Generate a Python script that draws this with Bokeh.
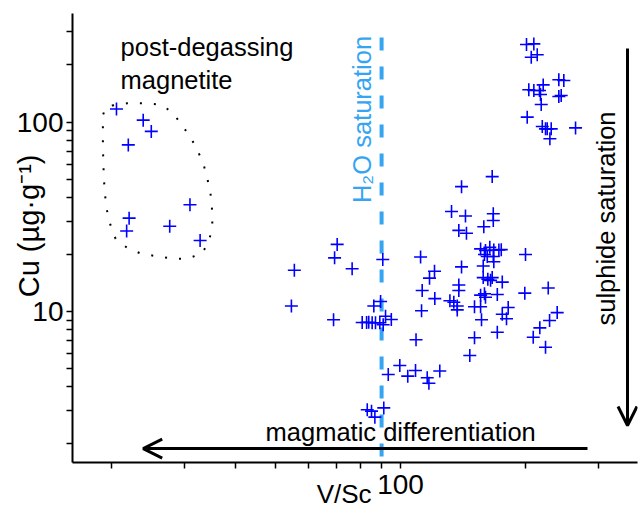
from bokeh.plotting import figure
from bokeh.models import (FixedTicker, PrintfTickFormatter, Label, Arrow, OpenHead)
from bokeh.embed import file_html
from bokeh.resources import INLINE

# ---------------- data ----------------
# post-degassing magnetite
mag_vsc = [20.6, 23.9, 25.0, 22.0, 31.0, 22.1, 21.8, 27.7, 32.8]
mag_cu = [117.2, 102.3, 89.2, 75.7, 36.6, 31.1, 26.6, 28.2, 23.7]

# other magnetite analyses
vsc = [55.4, 54.5, 70.3, 69.3, 76.4, 68.9, 90.6, 89.5, 86.2,
       80.8, 82.8, 83.8, 85.4, 87.0, 89.1, 90.8, 92.0, 95.0,
       93.4, 83.1, 85.1, 86.7, 91.1,
       99.6, 104.1, 108.7, 116.0, 117.1, 124.4, 109.0,
       111.8, 120.8, 117.5, 112.8, 121.0, 112.4,
       131.6, 134.5, 137.1, 137.1, 138.3, 138.3, 140.4, 132.8, 138.3, 140.4,
       143.5, 144.3,
       166.5, 167.5, 167.5, 158.9,
       156.1, 160.4, 164.3, 168.0, 172.8, 175.1, 162.0, 167.5, 159.5,
       168.0, 158.4, 158.4, 162.5, 166.5, 165.0, 176.1,
       156.1, 159.5, 160.4, 171.3,
       150.9, 156.1, 182.0, 176.1, 180.3, 156.9, 171.3, 150.9, 147.0,
       200.4, 199.6, 227.4, 239.0, 229.1, 217.0, 209.2, 224.0,
       201.5, 209.9, 206.9, 213.9, 241.2, 248.0, 241.2, 244.4,
       204.1, 209.9, 216.6, 221.1, 217.8, 218.7, 202.3,
       220.0, 224.0, 226.1, 231.2, 229.5, 264.7]
cu = [16.5, 10.7, 22.6, 19.2, 16.8, 9.04, 18.8, 11.3, 10.7,
      8.75, 8.75, 8.78, 8.73, 8.73, 8.73, 8.51, 9.44, 9.08,
      4.65, 3.03, 2.98, 2.77, 3.10,
      5.19, 4.56, 4.88, 4.47, 4.18, 4.85, 7.09,
      19.4, 16.3, 15.0, 12.9, 11.7, 10.1,
      11.4, 11.2, 10.7, 10.2, 13.8, 12.9, 17.2, 33.7, 26.8, 45.6,
      31.9, 25.9,
      51.5, 32.8, 30.2, 28.0,
      21.4, 21.0, 21.8, 21.1, 21.1, 21.2, 19.5, 19.5, 20.0,
      18.3, 17.4, 15.1, 14.8, 15.1, 14.6, 14.3,
      12.2, 12.4, 11.9, 12.3,
      10.6, 10.6, 10.5, 9.68, 9.16, 9.04, 7.78, 7.27, 5.86,
      20.0, 12.5, 13.3, 9.87, 8.96, 8.20, 7.32, 6.48,
      256.2, 258.3, 219.7, 226.2, 167.0, 165.6, 136.3, 137.9,
      147.9, 146.7, 146.7, 157.0, 139.7, 123.7, 106.1,
      94.6, 92.0, 92.0, 92.0, 81.6, 93.1]

# outline of the post-degassing group
outline_vsc = [20.1, 21.9, 24.0, 26.3, 28.1, 29.5, 31.1, 32.4, 33.5, 34.2,
               34.8, 35.1, 35.1, 34.4, 33.1, 30.5, 28.1, 25.7, 23.6, 21.8,
               20.5, 19.9, 19.5, 19.3, 19.2, 19.1, 19.1, 19.1, 19.4, 20.1]
outline_cu = [122.2, 125.7, 125.7, 123.7, 112.7, 97.7, 83.1, 70.2, 58.9, 49.6,
              41.0, 33.4, 27.9, 23.2, 20.2, 19.0, 19.0, 19.6, 20.2, 21.8,
              24.2, 28.8, 34.8, 42.7, 51.2, 73.7, 90.1, 108.4, 119.8, 122.2]

h2o_sat_vsc = 90.0

x_major = [100]
x_minor = [20, 30, 40, 50, 60, 70, 80, 90, 200, 300]
y_major = [10, 100]
y_minor = [2, 3, 4, 5, 6, 7, 8, 9, 20, 30, 40, 50, 60, 70, 80, 90, 200, 300]

FONT = "Liberation Sans"
BLUE_LIGHT = "#35A5F2"
NB = "\u00a0"

p = figure(width=640, height=512, x_axis_type="log", y_axis_type="log",
           x_range=(16.13, 373.6), y_range=(1.597, 373.7),
           output_backend="svg", toolbar_location=None,
           min_border_left=72, min_border_right=3, min_border_top=13,
           min_border_bottom=50)
p.outline_line_color = None
p.xgrid.visible = False
p.ygrid.visible = False

for ax, maj, mnr in ((p.xaxis, x_major, x_minor), (p.yaxis, y_major, y_minor)):
    ax.ticker = FixedTicker(ticks=maj, minor_ticks=mnr)
    ax.formatter = PrintfTickFormatter(format="%d")
    ax.axis_line_width = 2
    ax.axis_line_color = "black"
    ax.major_tick_line_width = 1.5
    ax.minor_tick_line_width = 1.5
    ax.major_tick_out = 6
    ax.major_tick_in = 0
    ax.minor_tick_out = 6
    ax.minor_tick_in = 0
    ax.major_label_text_font = FONT
    ax.major_label_text_font_size = "28px"
    ax.major_label_text_color = "black"
    ax.major_label_standoff = 3
    ax.axis_label_text_font = FONT
    ax.axis_label_text_font_style = "normal"
    ax.axis_label_text_color = "black"

p.xaxis.major_label_standoff = 6
p.xaxis.axis_label = "V/Sc" + NB * 3
p.xaxis.axis_label_text_font_size = "26px"
p.xaxis.axis_label_standoff = -18
p.yaxis.axis_label = NB * 3 + "Cu (\u00b5g\u00b7g\u207b\u00b9)"
p.yaxis.axis_label_text_font_size = "29px"
p.yaxis.axis_label_standoff = -31

# H2O saturation line
p.line([h2o_sat_vsc, h2o_sat_vsc], [279.2, 1.597], line_color=BLUE_LIGHT,
       line_width=4, line_dash="13 16")

# outline
p.line(outline_vsc, outline_cu, line_color="black", line_width=2,
       line_dash="2 12")

# points
p.scatter(vsc, cu, marker="cross", size=13, line_color="blue", line_width=1.6)
p.scatter(mag_vsc, mag_cu, marker="cross", size=13, line_color="blue",
          line_width=1.6)

# arrows
p.add_layout(Arrow(end=OpenHead(size=19, line_width=3, line_color="black"),
                   x_start=282.9, y_start=1.892, x_end=23.9, y_end=1.892,
                   line_width=3, line_color="black"))
p.add_layout(Arrow(end=OpenHead(size=19, line_width=3, line_color="black"),
                   x_start=353.4, y_start=244.3, x_end=353.4, y_end=2.503,
                   line_width=3, line_color="black"))

def lab(text, x, y, angle=0.0, align="left", color="black", size="25.5px"):
    p.add_layout(Label(x=x, y=y, text=text, angle=angle, text_align=align,
                       text_baseline="alphabetic", text_color=color,
                       text_font=FONT, text_font_size=size))

lab("post-degassing", 21.07, 247.3)
lab("magnetite", 21.07, 165.6)
lab("magmatic differentiation", 47.2, 2.327)
lab("H\u2082O saturation", 80.9, 103.1, angle=1.5708, align="center",
    color=BLUE_LIGHT)
lab("sulphide saturation", 312.7, 30.96, angle=1.5708, align="center")

open("out.html", "w").write(file_html(p, INLINE))
